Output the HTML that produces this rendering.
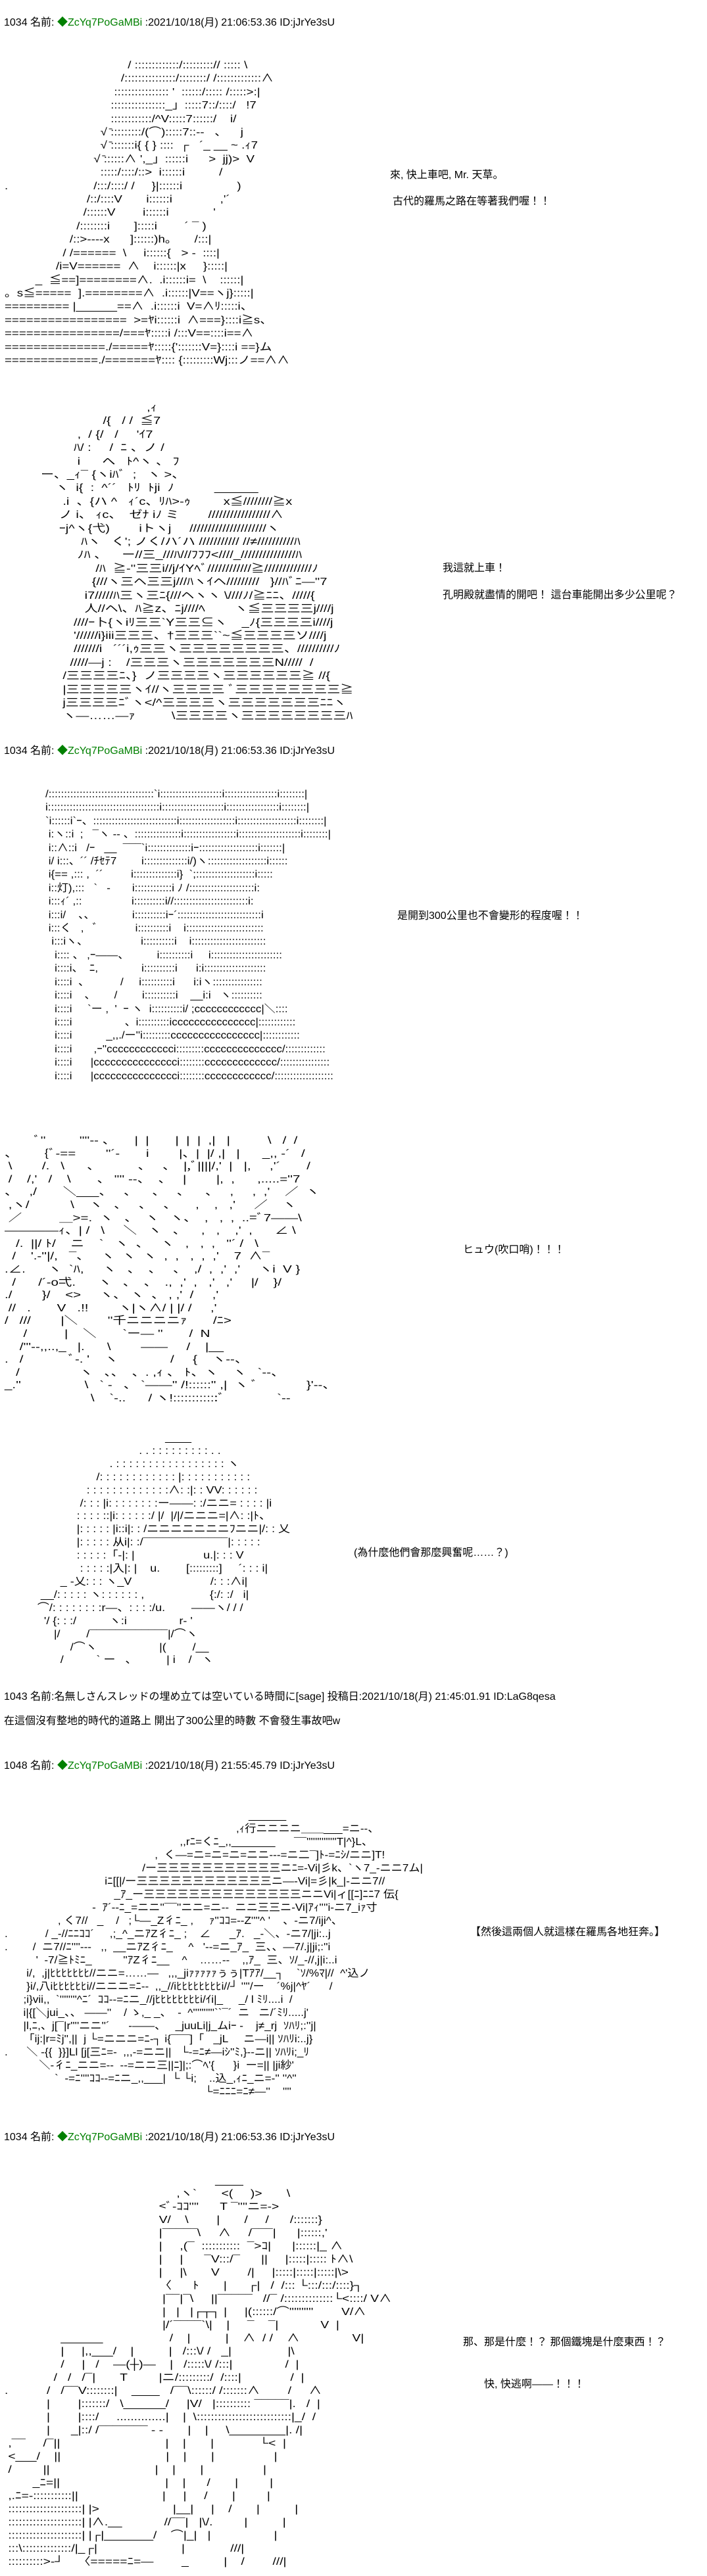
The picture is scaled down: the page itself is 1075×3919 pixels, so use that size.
<!DOCTYPE html>
<html><head><meta charset="utf-8">
<style>
html,body{margin:0;padding:0;background:#fff;}
body{width:1075px;height:3919px;position:relative;overflow:hidden;font-family:"Liberation Sans","Noto Sans CJK JP",sans-serif;color:#000;}
.t{position:absolute;white-space:pre;font-size:16px;line-height:18px;}
.g{color:#008000;}
.aa{position:absolute;white-space:pre;font-size:16px;margin:0;font-family:"Liberation Sans","Noto Sans CJK JP",sans-serif;transform-origin:0 0;}
</style></head><body>

<div class="t" style="left:6px;top:26px">1034 名前: <span class="g">◆ZcYq7PoGaMBi</span> :2021/10/18(月) 21:06:53.36 ID:jJrYe3sU</div>

<pre class="aa" style="left:7px;top:90px;line-height:20.4px;transform:scaleX(1.17)">                                    / :::::::::::::/:::::::::// ::::: \
                                  /:::::::::::::::/::::::::/ /:::::::::::::∧
                                :::::::::::::::: '  ::::::/::::: /:::::&gt;:|
                               ::::::::::::::::_」:::::7::/::::/   !7
                               ::::::::::::/^V:::::7::::::/    i/
                            √ ̄:::::::::/(⌒):::::7::--   、    j
                            √ ̄:::::::i{ { } ::::  ┌   ´_ __ ~ .ｨ7
                          √ ̄::::::∧ ',_」::::::i      &gt;  jj)&gt;  V
                            :::::/::::/::&gt;  i::::::i          /
.                         /:::/::::/ /     }|::::::i                )
                        /::/::::V       i::::::i              ,'´
                       /::::::V        i::::::i             '
                     /::::::::i       ]:::::i        ´ ¯ )
                   /::&gt;----x      ]::::::)h。     /:::|
                 / /======  \     i::::::{   &gt; -  ::::|
               /i=V======  ∧    i::::::|x     }:::::|
         _  ≦==]========∧.  .i::::::i=  \    ::::::|
。s≦=====  ].========∧  .i::::::|V==ヽj}:::::|
========= |______==∧  .i::::::i  V=∧ﾘ:::::i、
=================  &gt;=ﾔi::::::i  ∧===}::::i≧s、
================/===ﾔ:::::i /:::V==::::i==∧
==============./=====ﾔ:::::{':::::::V=}::::i ==}ム
=============./=======ﾔ:::: {:::::::::Wj:::ノ==∧∧</pre>

<div class="t" style="left:593px;top:258px">來, 快上車吧, Mr. 天草。</div>
<div class="t" style="left:597px;top:298px">古代的羅馬之路在等著我們喔！！</div>

<pre class="aa" style="left:62px;top:611px;line-height:20.4px;transform:scaleX(1.25)">                             ,ｨ
                 /{   / /  ≦7
          ,  / {/   /     'ｲ7
         ﾊ/ :     /  ﾆ 、ノ /
          i      へ   ﾄ^ヽ 、 ﾌ
ー、_ｨ¯ {ヽiﾊﾞ  ;   ヽ &gt;、
    ヽ  i{  :  ^´´   ﾄﾘ  ﾄji  ﾉ           ______
      .i  、{ハ ^   ｨ´c、ﾘﾊ&gt;-ｩ         x≦////////≧x
     ノ i、 ｨc、  ゼﾅ iﾉ ミ        /////////////////∧
     ｰj^ヽ{弋)        iトヽj     /////////////////////ヽ
           ﾊヽ   く'; ノく/ハ´ハ /////////// //≠//////////ﾊ
          ﾉﾊ 、    ー//三_///ﾊ///ﾌﾌﾌ&lt;////_///////////////ﾊ
               /ﾊ  ≧-''三三i//j/ｲYﾍﾞ////////////≧/////////////ﾉ
              {///ヽ三ヘ三三j///ﾊヽｲヘ/////////   }//ﾊﾞﾆ—''7
            i7/////ﾊ三ヽ三ﾆ{///ヘヽヽ \////ﾉ/≧ﾆﾆ、/////{
            人//ヘ\、ﾊ≧z、ﾆj////ﾍ        ヽ≦三三三三j////j
         ////ｰ卜{ヽiﾘ三三`Y三三⊆ヽ    _ﾉ{三三三三i////j
         '//////i}iii三三三、†三三三``~≦三三三三ソ////j
         ///////i   ´´´i,ｩ三三ヽ三三三三三三三三、//////////ﾉ
        /////—j :    /三三三ヽ三三三三三三三N/////  /
      /三三三三ﾆ、}  ノ三三三三ヽ三三三三三三≧ //{
      |三三三三三ヽｲ//ヽ三三三三 ﾞ三三三三三三三三≧
      j三三三三ﾆﾞヽ&lt;/^三三三三ヽ三三三三三三三ﾆﾆヽ
      ヽ—……—ｧ          \三三三三ヽ三三三三三三三三ﾊ</pre>

<div class="t" style="left:673px;top:856px">我這就上車！</div>
<div class="t" style="left:673px;top:897px">孔明殿就盡情的開吧！ 這台車能開出多少公里呢？</div>

<div class="t" style="left:6px;top:1134px">1034 名前: <span class="g">◆ZcYq7PoGaMBi</span> :2021/10/18(月) 21:06:53.36 ID:jJrYe3sU</div>

<pre class="aa" style="left:69px;top:1199px;line-height:20.4px;transform:scaleX(1.06)">/::::::::::::::::::::::::::::::::::`i::::::::::::::::::::i:::::::::::::::::i::::::::|
i::::::::::::::::::::::::::::::::::::i::::::::::::::::::::i:::::::::::::::::i::::::::|
`i::::::i`ｰ、:::::::::::::::::::::::::::i::::::::::::::::::i:::::::::::::::::::i::::::::|
 i:ヽ::i  ;   ¯ヽ -- 、:::::::::::::::i:::::::::::::::::i::::::::::::::::::::i::::::::|
 i::∧::i   /ｰ   __  ¯¯¯`i::::::::::::::iｰ:::::::::::::::::::i:::::::|
 i/ i:::、´´ /ﾁｾﾃ7        i::::::::::::::i/)ヽ:::::::::::::::::::i::::::
 i{== ,::: ,  ´´         i::::::::::::::i}  `;:::::::::::::::::::i:::::
 i::灯),:::   `   -       i::::::::::::i ﾉ /:::::::::::::::::::::i:
 i:::ｨ´ ,::                i::::::::::i//::::::::::::::::::::::::i:
 i:::i/    、、            i::::::::::iｰ´:::::::::::::::::::::::::::i
 i:::く   ,   ﾞ            i::::::::::i    i:::::::::::::::::::::::::
  i:::iヽ、                 i::::::::::i    i::::::::::::::::::::::::
   i:::: 、 ,ｰ——、         i::::::::::i     i:::::::::::::::::::::::
   i::::i、  ﾆ,              i::::::::::i      i:i::::::::::::::::::::
   i::::i  、          /     i::::::::::i      i:iヽ::::::::::::::::
   i::::i    、      /        i::::::::::i    __i:i   ヽ::::::::::
   i::::i     `ー ,  '  ｰ ヽ  i::::::::::i/ ;cccccccccccc|＼::::
   i::::i                 、i::::::::::iccccccccccccccc|::::::::::::
   i::::i           _,,./ー''i:::::::::cccccccccccccccc|::::::::::::
   i::::i       ,ｰ''cccccccccccci:::::::::cccccccccccccc/:::::::::::::
   i::::i      |ccccccccccccccci::::::::ccccccccccccc/::::::::::::::::
   i::::i      |ccccccccccccccci::::::::cccccccccccc/:::::::::::::::::::</pre>

<div class="t" style="left:604px;top:1385px">是開到300公里也不會變形的程度喔！！</div>

<pre class="aa" style="left:7px;top:1726px;line-height:19.6px;transform:scaleX(1.28)">        ﾞ''         ''''-- 、     |  |       |  |  |  ,|   |          \   /  /
、       {ﾞ-==        ''´-       i        |、|  |/ ,|   |      _,, -´   /
 \        /.   \      、          、   、  |,ﾞ||||/,'  |   |,     ,'´       /
 /    /,'   /    \       、 '''' --、  、   |        |,  ,      ,.....=''7
、   ,/       ＼___、   、    、   、    、   ,     ,  ,'    ／  ヽ
 ,ヽ/           \    ヽ   、   、   、     ,    ,   ,'     ／    ヽ
 ／          ＿&gt;=.  ヽ   、  ヽ   ヽ、  ,   ,  ,  ..=ﾞ7——\
————ｨ、| /   \     ＼   ヽ   、    ,   ,    ,'  ,      ∠ \
   /.  ||/ ﾄ/    ニ    `   ヽ  、   ヽ   ,   ,  ,   ''´ /   \
  /    '.-''|/,   ¯、   ヽ  ヽ  ヽ  ,  ,   ,  ,  ,'    7  ∧¯
.∠.      ヽ  `ﾊ,     ヽ   、  、   、  ,/  ,  ,'  ,'     ヽi  V }
  /      /´-o弌.      ヽ   、  、  .,  ,'  ,   ,'   ,'     |/    }/
./        }/    &lt;&gt;     ヽ、 ヽ  、 , ,'  /     ,'
 //   .       V   .!!        ヽ|ヽ∧/ | |/ /     ,'
/   ///        |＼        ''千ニニニニｧ       /ﾆ&gt;
     /          |    ＼       `ー— ''       /  N
    /'''--,,..,_   |.      \        ——     /    |__
.   /            ﾞ-. '    ヽ              /     {    ヽ--、
   /                ヽ   、、  、. ,ｨ 、 ﾄ、ヽ    ヽ   `--、
_.''                 \   ` -   、 `——'' /!::::::'' ,|  ヽ ﾞ             }'--、
                       \    `-..      / ヽ!::::::::::::ﾞ              `--</pre>

<div class="t" style="left:704px;top:1893px">ヒュウ(吹口哨)！！！</div>

<pre class="aa" style="left:42px;top:2178px;line-height:19.9px;transform:scaleX(1.12)">                                          ____
                                  . . : : : : : : : : : . .
                         . : : : : : : : : : : : : : : : : : ヽ
                     /: : : : : : : : : : : : |: : : : : : : : : : :
                  : : : : : : : : : : : : :∧: :|: : VV: : : : : :
                /: : : |i: : : : : : : :ー——: :/ニニ= : : : : |i
               : : : : ::|i: : : : : :/ |/  |/|/ニニニ=|∧: :|ﾄ、
               |: : : : : |i::i|: : /ニニニニニニニﾌニニ|/: : 乂
               |: : : : : 从i|: :/¯¯¯¯¯¯¯¯¯¯¯¯¯|: : : : :
               : : : : :「-|: |                     u.|: : : V
                : : : : :|入|: |    u.        [:::::::::]     ´: : : i|
          _ -乂: : : ヽ_V                        /: : :∧i|
    __/: : : : : ヽ: : : : : : ,                    {:/: :/   i|
   ⌒/: : : : : : : :r—、: : : :/u.        ——ヽ/ / /
     '/ {: : :/          ヽ:i                r‐ '
        |/        /¯¯¯¯¯¯¯¯¯¯¯¯|/⌒ヽ
             /⌒ヽ                   |(        /__
          /          ` ー   、         | i    /   ヽ</pre>

<div class="t" style="left:538px;top:2354px">(為什麼他們會那麼興奮呢……？)</div>

<div class="t" style="left:6px;top:2573px">1043 名前:名無しさんスレッドの埋め立ては空いている時間に[sage] 投稿日:2021/10/18(月) 21:45:01.91 ID:LaG8qesa</div>
<div class="t" style="left:6px;top:2610px">在這個沒有整地的時代的道路上 開出了300公里的時數 不會發生事故吧w</div>

<div class="t" style="left:6px;top:2678px">1048 名前: <span class="g">◆ZcYq7PoGaMBi</span> :2021/10/18(月) 21:55:45.79 ID:jJrYe3sU</div>

<pre class="aa" style="left:7px;top:2753px;line-height:20px;transform:scaleX(1.07)">                                                                              ______
                                                                          ,ｨ行ニニニニ＿＿___=ニ--、
                                                        ,,rﾆ=くﾆ_,,_______      ¯¯''''''''''''''T|^}L、
                                                ,  く—=ニ=ニ=ニ=ニニ---=ニ二¯]ﾄ-=ﾆｼ/ニニ]T!
                                            /ー三三三三三三三三三三三ニﾆ=-Vi|彡k、`ヽ7_-ニニ7ム|
                                iﾆ[[|/ー三三三三三三三三三三三三ニ—-Vi|=彡|k_|-ニニ7//
                                   _ｱ_ー三三三三三三三三三三三三三三ニニVi|ィ[[ﾆ]ﾆﾆ7 伝{
                            -  ｱ´--ﾆ_=ニニ''¯¯''ニニ=ニ--  ニニ三三ニ-Vi|ｱｨ''''i-ニ7_iｧ寸
                 , く7//   _    /   ;└—_Z彳ﾆ_ ,     ｧ''ｺｺ=--Z''''^ '    、-ニ7/iji^、
.            / _-//ﾆﾆｺｺ´     ,;_^_ニｱZ彳ﾆ_ ;    ∠      _ｱ.   _-＼、-ニ7/|ji:..j
.        /  ニ7//ﾆ''''---   ,,  __ニｱZ彳ﾆ_     ^   '--=ニ_ｱ_  三、、—7/.j|ji;:''i
          '  -7/≧ﾄﾐﾆ_          ''ｱZ彳ﾆ__    ^    ……--    ,,ｱ_  三、ｿ/_-//,j|i:..i
       i/,  ,j|ﾋﾋﾋﾋﾋﾋﾋ//ニニ=……—   ,,,_jiｧｧｧｧｧぅぅ|Tｱｱ/__┐    `ｿ/%ﾏ|//  ^'込ノ
       }i/,八iﾋﾋﾋﾋﾋﾋi//ニニニ=ﾆ--  ,,_//iﾋﾋﾋﾋﾋﾋﾋﾋi//┘ ''''/ー    ´%j|^ﾔ´      /
      ;i}vii,,  `''''''''^ﾆ´  ｺｺ--=ﾆニ_//jﾋﾋﾋﾋﾋﾋﾋﾋi/ｲi|_     _/ l ﾐﾘ....i  /
      i|{[＼jui_、、 ——''    / ゝ,_ _、  -  ^''''''''''``¯´  ニ   ニ/´ﾐﾘ.....j'
      |l,ﾆ,、j[¯|r''''ニニ''´      ‐——、   _juuLi|j_ムiｰ -    j≠_rj  ｿﾊﾘ;:''j|
      「ij:|r=ﾐj'',||  j └=ニニニ=ﾆ-┐ i{¯¯¯]「   _jL     ニ—i|| ｿﾊﾘi:..j}
.      ＼ -{{  }}]Ll [j[三ﾆ=-  ,,,-=ニニ||   └-=ﾆ≠—iｼ''ﾐ,}--ニ|| ｿﾊﾘi;_ﾘ
           ＼-彳ﾆ_ニニ=--  --=ニニ三||ﾆ]|;:⌒ﾍ'{      }i  ー=|| |ji紗'
                `  -=ﾆ''''ｺｺ--=ﾆニ_,,___|  └ └i;    ..込_,ｨﾆ_ニ=-'' ''^''
                                                                └=ﾆﾆﾆ=ﾆ≠—''    ''''</pre>

<div class="t" style="left:715px;top:2931px">【然後這兩個人就這樣在羅馬各地狂奔。】</div>

<div class="t" style="left:6px;top:3243px">1034 名前: <span class="g">◆ZcYq7PoGaMBi</span> :2021/10/18(月) 21:06:53.36 ID:jJrYe3sU</div>

<pre class="aa" style="left:7px;top:3308px;line-height:20px;transform:scaleX(1.2)">                                                            ____
                                                 ,ヽ`       &lt;(     )&gt;       \
                                            &lt;ﾞ-ｺｺ''''      T ¯''''ニ=-&gt;
                                            V/    \        |       /     /      /:::::::}
                                            |¯¯¯¯¯\     ∧     /¯¯¯|      |::::::,'
                                            |     ,(¯  :::::::::::  ¯&gt;ｺ|      |::::::|_ ∧
                                            |     |      ¯V:::/¯      ||     |:::::|::::: ﾄ∧\
                                            |     |\       V        /|     |:::::|:::::|:::::|\&gt;
                                            〈      ﾄ       |      ┌|   /  /::: └:::/:::/::::}┐
                                             |¯¯|¯\     ||¯¯¯¯¯   //¯ /::::::::::::::└&lt;::::/ V∧
                                             |   |   |┌┬┐ |     |(::::::/⌒''''''''''        V/∧
                                             |/´¯¯¯¯`\|    |     ¯    ¯|            V  |
                ______                   /    |          |    ∧  / /    ∧               V|
                |     |,,___/    |          |   /:::\/ /   _|                |\
                /     |   /    ―(┼)―    |   /:::::\/ /:::|               /  |
              /   /   /¯|       T         |ニ/:::::::::/  /::::|              /  |
.           /   /¯¯V::::::::|    ____   /¯¯\::::::/ /:::::::∧        /     ∧
            |        |:::::::/   \______/     |V/   |:::::::::: ¯¯¯¯¯|.   /  |
            |        |::::/     ..............|    |  \:::::::::::::::::::::::::::|_/  /
            |      _|::/ /¯¯¯¯¯¯¯ - -       |    |     \________|. /|
 ,¯¯     /¯||                              |    |       |             └&lt;  |
 &lt;___/    ||                              |    |       |                 |
 /         ||                              |    |       |                 |
        _ﾆ=||                              |    |      /       |         |
 ,.ﾆ=-:::::::::::||                        |     |     /       |         |
 :::::::::::::::::::::| |&gt;                     |__|     |    /       |          |
 :::::::::::::::::::::| |∧.__            //¯¯|   |\/.         |          |
 :::::::::::::::::::::| |┌|_______/    ⌒|_|   |                  |
 :::\::::::::::::::/|_┌|                        |             ///|
 ::::::::::&gt;-┘    〈=====ﾆ=—        _          |    /        ///|</pre>

<div class="t" style="left:704px;top:3555px">那、那是什麼！？ 那個鐵塊是什麼東西！？</div>
<div class="t" style="left:736px;top:3619px">快, 快逃啊——！！！</div>

</body></html>
